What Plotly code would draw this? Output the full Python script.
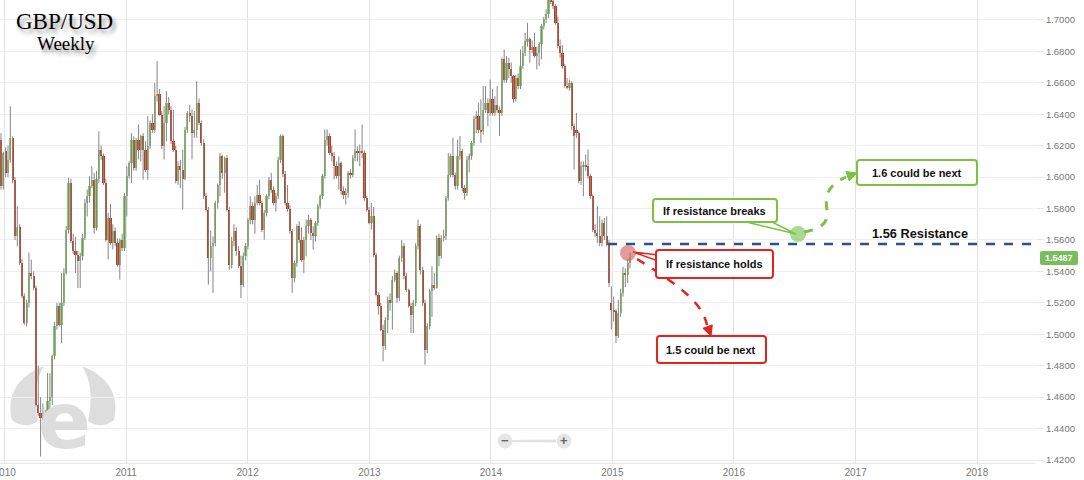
import plotly.graph_objects as go
import pandas as pd

# ---------------- data (weekly GBP/USD candles) ----------------
# values are in pips above 1.0000  (e.g. 5487 -> 1.5487)
opens = [6239,5942,6165,6027,6112,6250,5984,5623,5680,5454,
         5241,5071,5199,5390,5369,5294,4551,4498,4466,4456,
         4480,4573,4600,4859,5050,5178,5061,5199,5390,5666,
         5963,5592,5528,5507,5464,5496,5613,5836,5878,5942,
         5984,5677,5990,6175,6133,5963,5602,5740,5581,5660,
         5581,5443,5602,5549,5878,6006,6090,6239,6059,6239,
         6175,6260,6175,6048,6196,6345,6303,6515,6530,6398,
         6197,6345,6473,6430,6229,6175,5974,6069,6048,5990,
         6303,6409,6388,6282,6300,6473,6345,6218,5878,5793,
         5485,5560,5580,5836,5952,6133,6027,6122,5793,5443,
         5592,5655,5528,5432,5316,5496,5560,5730,5815,5730,
         5836,5889,5836,5666,5772,5878,5984,5921,5836,5878,
         6112,6260,6020,5836,5800,5655,5358,5454,5687,5602,
         5475,5602,5687,5730,5645,5624,5709,5815,5879,6006,
         6239,6261,6154,6133,6070,6006,6091,5910,5889,5900,
         6027,6016,6123,6165,6154,6165,6154,5868,5794,5709,
         5750,5507,5252,5180,5029,4923,5093,5220,5199,5348,
         5390,5231,5486,5560,5369,5284,5178,5125,5199,5560,
         5687,5411,5199,4902,5050,5273,5316,5295,5613,5496,
         5613,5624,5868,6016,6133,6016,5942,6133,6165,5932,
         5900,6112,6133,6218,6367,6390,6300,6292,6430,6473,
         6409,6494,6409,6460,6430,6409,6749,6621,6728,6690,
         6643,6494,6632,6579,6706,6791,6866,6876,6812,6830,
         6770,6790,6844,6961,7004,7035,7130,7120,7089,6982,
         6834,6791,6706,6579,6570,6600,6324,6300,6282,5974,
         6070,6080,6070,6006,5879,5666,5645,5624,5581,5709,
         5624,5571,5199,5157,5146,4987,5135,5263,5390,5380,5454]
highs = [6280,6160,6190,6200,6451,6260,6000,5815,5700,5480,
         5260,5220,5520,5475,5400,5310,4800,4600,4560,4520,
         4753,4753,4870,5080,5200,5200,5390,5420,5690,5995,
         5990,5640,5620,5530,5520,5640,5860,5921,6006,6069,
         6027,6040,6292,6200,6150,5990,5772,5830,5700,5680,
         5610,5610,5640,5900,6069,6100,6280,6260,6250,6335,
         6270,6280,6230,6387,6360,6400,6600,6738,6560,6420,
         6451,6547,6510,6450,6430,6200,6100,6110,6175,6320,
         6420,6460,6430,6420,6611,6500,6360,6240,5900,5810,
         5660,5623,5850,5960,6154,6140,6130,6140,5810,5620,
         5700,5680,5560,5500,5520,5580,5740,5878,5840,5878,
         5950,5984,5850,5790,5890,6000,6027,5940,5900,6130,
         6271,6271,6040,5950,5820,5670,5470,5700,5720,5680,
         5620,5730,5760,5740,5687,5720,5830,5890,6020,6303,
         6303,6280,6200,6160,6100,6133,6100,5940,5930,6040,
         6050,6140,6303,6196,6207,6335,6170,5880,5810,5836,
         5810,5520,5270,5200,5060,5110,5240,5260,5370,5411,
         5400,5500,5600,5580,5390,5290,5200,5220,5580,5730,
         5700,5430,5220,5070,5290,5433,5390,5630,5640,5630,
         5666,5880,6154,6150,6250,6030,6239,6261,6180,5950,
         6133,6150,6230,6390,6420,6473,6494,6579,6579,6500,
         6621,6560,6515,6579,6450,6760,6812,6770,6760,6730,
         6650,6650,6660,6812,6834,6919,6982,6890,6870,6919,
         6830,6860,6975,7020,7067,7190,7170,7150,7100,7020,
         6876,6840,6720,6630,6621,6610,6340,6409,6290,6100,
         6100,6144,6176,6020,5890,5700,5815,5751,5730,5740,
         5751,5600,5305,5240,5160,5220,5290,5430,5420,5480,5520]
lows = [5920,5921,6000,6000,6090,5960,5600,5560,5440,5230,
        5060,5050,5170,5350,5280,4540,4480,4222,4380,4400,
        4413,4350,4550,4840,5030,5050,4944,5180,5380,5640,
        5580,5510,5390,5294,5294,5470,5600,5750,5836,5930,
        5640,5660,5960,6110,5950,5590,5475,5570,5540,5560,
        5430,5348,5530,5530,5750,5990,5963,6040,6040,6112,
        6100,5984,6030,5984,6180,6280,6280,6480,6390,6180,
        6112,6230,6400,6210,6160,5960,5950,5930,5794,5980,
        6280,6350,6112,6250,6250,6330,6200,5860,5780,5316,
        5400,5263,5560,5800,5878,5990,5900,5780,5411,5420,
        5560,5500,5420,5230,5300,5470,5540,5700,5700,5640,
        5820,5820,5650,5602,5750,5860,5900,5820,5780,5860,
        6090,6000,5820,5780,5640,5263,5330,5430,5580,5460,
        5390,5496,5640,5600,5539,5590,5690,5800,5860,5990,
        6200,6140,6100,5985,5990,5921,5889,5860,5825,5870,
        5990,6000,6100,6100,6070,6120,5850,5780,5700,5666,
        5490,5240,5125,5020,4828,4900,5008,5150,5029,5330,
        5200,5210,5460,5350,5270,5170,5008,5008,5180,5540,
        5380,5180,4806,4880,5030,5110,5280,5290,5433,5480,
        5590,5600,5850,6000,6000,5920,5920,6110,5910,5857,
        5880,6030,6110,6200,6280,6280,6218,6270,6410,6324,
        6390,6390,6390,6410,6261,6390,6600,6600,6630,6600,
        6473,6480,6560,6560,6690,6770,6830,6728,6790,6760,
        6685,6706,6749,6940,6980,7010,7100,7070,6970,6820,
        6760,6690,6570,6560,6550,6300,6049,6250,5960,5950,
        5879,6040,5990,5860,5650,5620,5581,5560,5560,5600,
        5560,5300,5029,5080,4944,4976,5110,5240,5300,5326,5420]
closes = [5942,6154,6027,6112,6250,5984,5623,5680,5454,5241,
          5071,5199,5390,5369,5294,4551,4498,4466,4456,4480,
          4573,4600,4859,5050,5178,5061,5199,5390,5666,5963,
          5592,5528,5507,5464,5496,5613,5836,5878,5942,5984,
          5677,5990,6175,6133,5963,5602,5740,5581,5660,5581,
          5443,5602,5549,5878,6006,6090,6239,6059,6239,6175,
          6260,6175,6048,6196,6345,6303,6515,6530,6398,6197,
          6345,6473,6430,6229,6175,5974,6069,6048,5990,6303,
          6409,6388,6282,6300,6473,6345,6218,5878,5793,5485,
          5560,5580,5836,5952,6133,6027,6122,5793,5443,5592,
          5655,5528,5432,5316,5496,5560,5730,5815,5730,5836,
          5889,5836,5666,5772,5878,5984,5921,5836,5878,6112,
          6260,6020,5836,5800,5655,5358,5454,5687,5602,5475,
          5602,5687,5730,5645,5624,5709,5815,5879,6006,6239,
          6261,6154,6133,6070,6006,6091,5910,5889,5900,6027,
          6016,6123,6165,6154,6165,6154,5868,5794,5709,5750,
          5507,5252,5180,5029,4923,5093,5220,5199,5348,5390,
          5231,5486,5560,5369,5284,5178,5125,5199,5560,5687,
          5411,5199,4902,5050,5273,5316,5295,5613,5496,5613,
          5624,5868,6016,6133,6016,5942,6133,6165,5932,5900,
          6112,6133,6218,6367,6390,6300,6292,6430,6473,6409,
          6494,6409,6460,6430,6409,6749,6621,6728,6690,6643,
          6494,6632,6579,6706,6791,6866,6876,6812,6830,6770,
          6790,6844,6961,7004,7035,7130,7120,7089,6982,6834,
          6791,6706,6579,6570,6600,6324,6261,6282,5974,6070,
          6080,6070,6006,5879,5666,5645,5624,5581,5709,5624,
          5571,5326,5157,5146,4987,5135,5263,5390,5380,5454,5487]

last_week = "2015-02-23"
x_range = ["2009-12-18", "2018-06-24"]
y_range = [1.4181, 1.7127]
y_ticks = [1.42, 1.44, 1.46, 1.48, 1.50, 1.52, 1.54, 1.56, 1.58,
           1.60, 1.62, 1.64, 1.66, 1.68, 1.70]
resistance_level = 1.5575
resistance_start = "2014-12-19"
last_price_label = "1.5487"
title_lines = ["GBP/USD", "Weekly"]
note_texts = ["If resistance breaks", "1.6 could be next",
              "If resistance holds", "1.5 could be next", "1.56 Resistance"]

# ---------------- build ----------------
def price(v):
    return 1 + v / 10000.0

dates = pd.date_range(end=last_week, periods=len(closes), freq="7D")
o = [price(v) for v in opens]
h = [price(v) for v in highs]
l = [price(v) for v in lows]
c = [price(v) for v in closes]

GREEN = "#8cc96f"
RED = "#c8381a"

wx, wy = [], []
for d, hi, lo in zip(dates, h, l):
    wx += [d, d, None]
    wy += [lo, hi, None]

fig = go.Figure()
fig.add_trace(go.Scatter(x=wx, y=wy, mode="lines",
                         line=dict(color="#858585", width=1),
                         hoverinfo="skip", showlegend=False))
fig.add_trace(go.Bar(x=dates,
                     y=[abs(cc - oo) for oo, cc in zip(o, c)],
                     base=[min(oo, cc) for oo, cc in zip(o, c)],
                     marker=dict(color=[GREEN if cc >= oo else RED for oo, cc in zip(o, c)],
                                 line=dict(width=0)),
                     width=6.7 * 86400000, showlegend=False))

# resistance line (data coordinates)
fig.add_shape(type="line", xref="x", yref="y",
              x0=resistance_start, x1=x_range[1],
              y0=resistance_level, y1=resistance_level,
              line=dict(color="#2d4f8c", width=2.5, dash="dash"), layer="above")

# ---------------- decorations in pixel space ----------------
PW, PH = 1035.0, 463.0

def X(px):
    return round(px / PW, 5)

def Y(py):
    return round((PH - py) / PH, 5)

def poly(points, close=True):
    s = "M " + " L ".join(f"{X(a)},{Y(b)}" for a, b in points)
    return s + (" Z" if close else "")

def rrect(x0, y0, x1, y1, r):
    return (f"M {X(x0+r)},{Y(y0)} L {X(x1-r)},{Y(y0)} Q {X(x1)},{Y(y0)} {X(x1)},{Y(y0+r)} "
            f"L {X(x1)},{Y(y1-r)} Q {X(x1)},{Y(y1)} {X(x1-r)},{Y(y1)} "
            f"L {X(x0+r)},{Y(y1)} Q {X(x0)},{Y(y1)} {X(x0)},{Y(y1-r)} "
            f"L {X(x0)},{Y(y0+r)} Q {X(x0)},{Y(y0)} {X(x0+r)},{Y(y0)} Z")

def curve(p0, c1, c2, p1, c3, c4, p2):
    pts = [p0, c1, c2, p1, c3, c4, p2]
    q = [f"{X(a)},{Y(b)}" for a, b in pts]
    return f"M {q[0]} C {q[1]} {q[2]} {q[3]} C {q[4]} {q[5]} {q[6]}"

def circle(cx, cy, r, fill, layer="above"):
    fig.add_shape(type="circle", xref="paper", yref="paper",
                  x0=X(cx - r), x1=X(cx + r), y0=Y(cy + r), y1=Y(cy - r),
                  fillcolor=fill, line=dict(width=0), layer=layer)

def pshape(path, line_color=None, width=0, fill=None, dash=None, layer="above"):
    fig.add_shape(type="path", xref="paper", yref="paper", path=path,
                  fillcolor=fill if fill else "rgba(0,0,0,0)",
                  line=dict(color=line_color if line_color else "rgba(0,0,0,0)",
                            width=width, dash=dash),
                  layer=layer)

def text(px, py, t, size, color="#111", family="Liberation Sans, Arial",
         bold=True, shadow=None, xanchor="center"):
    f = dict(size=size, color=color, family=family)
    if shadow:
        f["shadow"] = shadow
    fig.add_annotation(xref="paper", yref="paper", x=X(px), y=Y(py),
                       text=(f"<b>{t}</b>" if bold else t), showarrow=False,
                       font=f, xanchor=xanchor, yanchor="middle")

LOGO = "#dddddd"
# watermark logo (horns + e)
pshape(f"M {X(12)},{Y(420)} C {X(6)},{Y(395)} {X(18)},{Y(376)} {X(44)},{Y(366)} "
       f"C {X(35)},{Y(380)} {X(33)},{Y(398)} {X(38)},{Y(421)} Q {X(25)},{Y(430)} {X(12)},{Y(420)} Z",
       fill=LOGO, layer="below")
pshape(f"M {X(114)},{Y(420)} C {X(120)},{Y(395)} {X(108)},{Y(376)} {X(82)},{Y(366)} "
       f"C {X(91)},{Y(380)} {X(93)},{Y(398)} {X(88)},{Y(421)} Q {X(101)},{Y(430)} {X(114)},{Y(420)} Z",
       fill=LOGO, layer="below")
fig.add_annotation(xref="paper", yref="paper", x=X(64), y=Y(421), text="<b>e</b>",
                   showarrow=False, font=dict(size=78, color=LOGO, family="DejaVu Sans"),
                   xanchor="center", yanchor="middle")

# zoom control
pshape(poly([(512, 440), (556, 439.5), (556, 442.5), (512, 442)]), fill="#e2e2e2")
circle(505, 441, 7.5, "#e6e6e6")
circle(564, 441, 7.5, "#e6e6e6")
text(505, 440.5, "−", 13, color="#666", family="Liberation Sans")
text(564, 440.5, "+", 13, color="#666", family="Liberation Sans")

# green scenario
GR = "#7cc242"
pshape(curve((804, 232), (822, 229), (829, 222), (827, 210),
             (825, 197), (826, 186), (846, 177)), line_color=GR, width=3, dash="dash")
pshape(poly([(857, 173), (849.3, 181.0), (845.9, 171.6)]), fill=GR, line_color=GR, width=1)
pshape(poly([(742, 221), (796, 234), (770, 221)]), fill="white", line_color=GR, width=1.5)
pshape(rrect(653, 199, 777, 222, 3), fill="white", line_color=GR, width=2)
circle(798, 234, 8, "rgba(125,196,85,0.65)")
pshape(rrect(857, 160, 977, 185, 3), fill="white", line_color=GR, width=2)
text(714, 211, note_texts[0], 11)
text(917, 173, note_texts[1], 11)

# red scenario
RD = "#e5231d"
pshape(curve((637, 259), (655, 270), (675, 283), (690, 297),
             (700, 307), (705, 316), (707, 325)), line_color=RD, width=2.5, dash="dash")
pshape(poly([(711, 336), (712.3, 324.9), (702.9, 328.3)]), fill=RD, line_color=RD, width=1)
pshape(poly([(658, 255), (633, 252), (658, 261)]), fill="white", line_color=RD, width=1.5)
pshape(rrect(656, 250, 773, 278, 3), fill="white", line_color=RD, width=2)
circle(628, 253, 8, "rgba(214,88,88,0.6)")
pshape(rrect(657, 336, 766, 363, 3), fill="white", line_color=RD, width=2)
text(714, 264, note_texts[2], 11)
text(711, 350, note_texts[3], 11)

# resistance label
text(920, 233, note_texts[4], 12.8)

# last price tag
pshape(rrect(1040, 251, 1078, 265, 2), fill="#7bbd5c")
text(1059, 258, last_price_label, 9, color="white", family="Liberation Sans")

# title
text(64, 21, title_lines[0], 23, family="Liberation Serif", bold=False,
     shadow="3px 4px 4px rgba(0,0,0,0.45)", color="#000")
text(66, 44, title_lines[1], 19, family="Liberation Serif", bold=False,
     shadow="3px 4px 4px rgba(0,0,0,0.45)", color="#000")

fig.update_layout(
    width=1084, height=480,
    margin=dict(l=0, r=49, t=0, b=17, autoexpand=False),
    paper_bgcolor="white", plot_bgcolor="white",
    showlegend=False, bargap=0,
    xaxis=dict(type="date", range=x_range, dtick="M12", tick0="2010-01-01",
               tickformat="%Y", showgrid=True, gridcolor="#e2e2e2", gridwidth=1,
               zeroline=False, showline=True, linecolor="#e6e6e6",
               tickfont=dict(size=10, color="#777", family="Liberation Sans"),
               ticklabeloverflow="allow", automargin=False, fixedrange=True),
    yaxis=dict(side="right", range=y_range, tickvals=y_ticks, tickformat=".4f",
               showgrid=True, gridcolor="#eeeeee", zeroline=False,
               ticks="outside", ticklen=8, tickcolor="#e6e6e6",
               tickfont=dict(size=9.5, color="#777", family="Liberation Sans"),
               automargin=False, fixedrange=True),
)

fig.write_html("out.html", config={"displayModeBar": False},
               post_script="document.body.style.margin='0';document.body.style.overflow='hidden';")
